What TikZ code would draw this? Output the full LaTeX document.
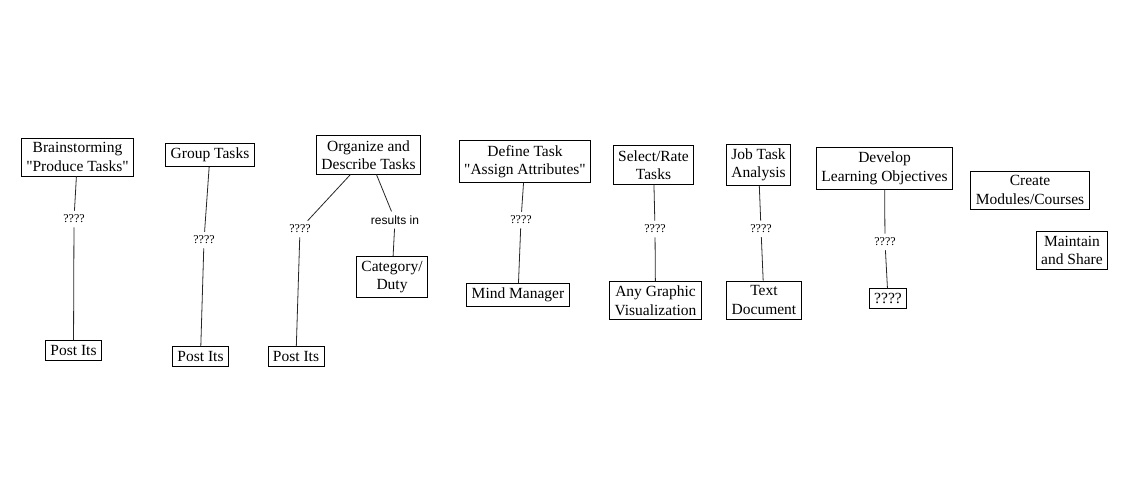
\documentclass[tikz,border=0pt]{standalone}
\usepackage{fontspec}
\setmainfont{Liberation Serif}
\newfontfamily\arialfont{Liberation Sans}
\usetikzlibrary{positioning}

\begin{document}
\begin{tikzpicture}[x = 1pt, y = -1pt,
		box/.style = {draw, line width = 0.8pt, align = center, inner xsep = 5pt, inner ysep = 4.5pt, font = \fontsize{15.5}{18.5}\selectfont},
		link/.style = {inner sep = 4pt, font = \fontsize{12}{14}\selectfont},
		conn/.style = {line width = 0.8pt, black!85}]
	\useasboundingbox (0, 0) rectangle (1128, 500);
	% top row: process steps
	\node [box] (brain) at (77.5, 157) {Brainstorming\\\textquotedbl Produce Tasks\textquotedbl};
	\node [box] (group) at (210, 155) {Group Tasks};
	\node [box] (organize) at (368.5, 155) {Organize and\\Describe Tasks};
	\node [box] (define) at (525, 161.5) {Define Task\\\textquotedbl Assign Attributes\textquotedbl};
	\node [box] (select) at (653.5, 165) {Select/Rate\\Tasks};
	\node [box] (jobtask) at (758.5, 165) {Job Task\\Analysis};
	\node [box] (develop) at (884.5, 168.5) {Develop\\Learning Objectives};
	\node [box] (create) at (1030, 190) {Create\\Modules/Courses};
	\node [box] (maintain) at (1072, 250.5) {Maintain\\and Share};
	% tools
	\node [box] (postA) at (73.5, 350.5) {Post Its};
	\node [box] (postB) at (200.5, 356.5) {Post Its};
	\node [box] (postC) at (296, 356.5) {Post Its};
	\node [box] (category) at (392, 277) {Category/\\Duty};
	\node [box] (mind) at (518, 295) {Mind Manager};
	\node [box] (graphic) at (655.5, 300.5) {Any Graphic\\Visualization};
	\node [box] (textdoc) at (764, 300) {Text\\Document};
	\node [box] (unknown) at (888, 298.5) {????};
	% link labels
	\node [link] (qA) at (74, 219) {????};
	\node [link] (qB) at (204, 240) {????};
	\node [link] (qC) at (300, 229) {????};
	\node [link, font = \arialfont\fontsize{12}{14}\selectfont] (res) at (395, 220) {results in};
	\node [link] (qD) at (521, 220) {????};
	\node [link] (qE) at (655, 229) {????};
	\node [link] (qF) at (761, 229) {????};
	\node [link] (qG) at (885, 242) {????};
	% connectors
	\draw [conn] (brain) -- (qA) -- (postA);
	\draw [conn] (group) -- (qB) -- (postB);
	\draw [conn] (organize) -- (qC) -- (postC);
	\draw [conn] (organize) -- (res) -- (category);
	\draw [conn] (define) -- (qD) -- (mind);
	\draw [conn] (select) -- (qE) -- (graphic);
	\draw [conn] (jobtask) -- (qF) -- (textdoc);
	\draw [conn] (develop) -- (qG) -- (unknown);
\end{tikzpicture}
\end{document}
